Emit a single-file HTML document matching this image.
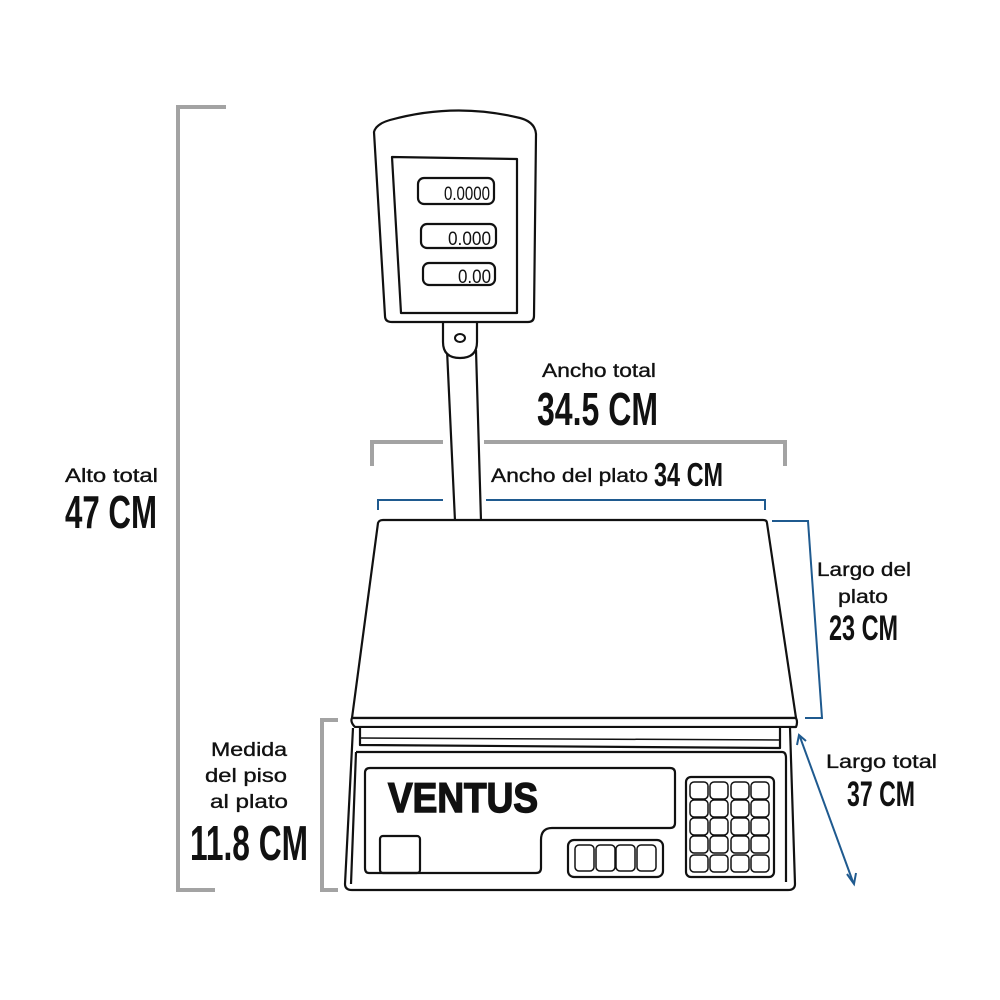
<!DOCTYPE html>
<html><head><meta charset="utf-8"><style>
html,body{margin:0;padding:0;background:#fff;}
svg{display:block}
.l{font-family:"Liberation Sans",sans-serif;font-size:19px;fill:#111;stroke:#111;stroke-width:0.35}
.b{font-family:"Liberation Sans",sans-serif;font-weight:bold;fill:#111}
</style></head><body>
<svg width="1000" height="1000" viewBox="0 0 1000 1000" xmlns="http://www.w3.org/2000/svg">
<g fill="none" stroke-linecap="butt">
<path d="M226 107 H178 V890 H215" stroke="#a3a3a3" stroke-width="4"/>
<path d="M338 720 H322 V890 H338" stroke="#a3a3a3" stroke-width="4"/>
<path d="M372 466 V442 H443 M484 442 H785 V466" stroke="#a3a3a3" stroke-width="4"/>
<path d="M378 510 V500 H443 M486 500 H765 V510" stroke="#1f5a8f" stroke-width="2"/>
<path d="M772 521 H808 L822 718 H805" stroke="#1f5a8f" stroke-width="2"/>
<path d="M800 737 L853 882" stroke="#1f5a8f" stroke-width="2"/>
<path d="M797 745 L799 735 L806 741" stroke="#1f5a8f" stroke-width="2"/>
<path d="M847 874 L854 884 L856 873" stroke="#1f5a8f" stroke-width="2"/>
</g>
<g fill="none" stroke="#111" stroke-width="2.2" stroke-linejoin="round">
<path d="M447 350 L455 521 M476 350 L481 521" fill="#fff"/>
<path d="M443 322 V342 Q443 358 460 358 Q477 358 477 342 V322" fill="#fff"/>
<ellipse cx="460" cy="338" rx="5" ry="4" stroke-width="2"/>
<path d="M374 132 Q376 124 390 120 Q455 102 520 118 Q535 122 536 134 L534 316 Q534 322 528 322 L392 322 Q385 322 385 316 Z" fill="#fff"/>
<path d="M392 157 L517 159 L517 313 L401 313 Z"/>
<rect x="418" y="178" width="76" height="26" rx="6"/>
<rect x="421" y="224" width="75" height="24" rx="6"/>
<rect x="423" y="263" width="72" height="22" rx="6"/>
<path d="M378 523 Q379 520 383 520 L763 520 Q767 520 767 523 L796 718 L352 718 Z" fill="#fff"/>
<path d="M352 718 L796 718 Q798 722 796 727 L355 727 Q350 722 352 718 Z" fill="#fff"/>
<path d="M353 728 L345 884 Q345 890 352 890 L788 890 Q795 890 795 884 L790 728" fill="#fff"/>
<path d="M360 728 L360 745 L780 748 L780 728"/>
<path d="M360 738 L780 740" stroke-width="1.5"/>
<path d="M356 752 L782 752 Q786 752 786 758 L786 882 M356 752 L351 884"/>
<path d="M370 768 L670 768 Q675 768 675 773 L675 823 Q675 828 670 828 L552 828 Q541 828 541 840 L541 868 Q541 873 536 873 L369 873 Q365 873 365 868 L365 773 Q365 768 370 768 Z"/>
<rect x="380" y="836" width="40" height="37" rx="3"/>
<rect x="568" y="840" width="95" height="37" rx="6"/>
<g stroke-width="1.5">
<rect x="575" y="845" width="19" height="26" rx="4"/><rect x="596" y="845" width="19" height="26" rx="4"/>
<rect x="616" y="845" width="19" height="26" rx="4"/><rect x="637" y="845" width="19" height="26" rx="4"/>
</g>
<rect x="686" y="777" width="88" height="100" rx="5"/>
<g stroke-width="1.5">
<rect x="690" y="782" width="18" height="17" rx="4"/><rect x="710" y="782" width="18" height="17" rx="4"/><rect x="731" y="782" width="18" height="17" rx="4"/><rect x="751" y="782" width="18" height="17" rx="4"/>
<rect x="690" y="800" width="18" height="17" rx="4"/><rect x="710" y="800" width="18" height="17" rx="4"/><rect x="731" y="800" width="18" height="17" rx="4"/><rect x="751" y="800" width="18" height="17" rx="4"/>
<rect x="690" y="818" width="18" height="17" rx="4"/><rect x="710" y="818" width="18" height="17" rx="4"/><rect x="731" y="818" width="18" height="17" rx="4"/><rect x="751" y="818" width="18" height="17" rx="4"/>
<rect x="690" y="836" width="18" height="17" rx="4"/><rect x="710" y="836" width="18" height="17" rx="4"/><rect x="731" y="836" width="18" height="17" rx="4"/><rect x="751" y="836" width="18" height="17" rx="4"/>
<rect x="690" y="855" width="18" height="17" rx="4"/><rect x="710" y="855" width="18" height="17" rx="4"/><rect x="731" y="855" width="18" height="17" rx="4"/><rect x="751" y="855" width="18" height="17" rx="4"/>
</g>
</g>
<g font-family="Liberation Sans,sans-serif" font-size="19" fill="#111">
<text x="444" y="200" textLength="46" lengthAdjust="spacingAndGlyphs">0.0000</text>
<text x="448" y="245" textLength="43" lengthAdjust="spacingAndGlyphs">0.000</text>
<text x="458" y="283" textLength="33" lengthAdjust="spacingAndGlyphs">0.00</text>
</g>
<text x="388" y="812" font-family="Liberation Sans,sans-serif" font-weight="bold" font-size="42" fill="#111" stroke="#111" stroke-width="1.5" textLength="150" lengthAdjust="spacingAndGlyphs">VENTUS</text>
<text class="l" x="65" y="482" textLength="93" lengthAdjust="spacingAndGlyphs">Alto total</text>
<text class="b" x="65" y="528" font-size="46" textLength="92" lengthAdjust="spacingAndGlyphs">47 CM</text>
<text class="l" x="542" y="377" textLength="114" lengthAdjust="spacingAndGlyphs">Ancho total</text>
<text class="b" x="537" y="425" font-size="46" textLength="121" lengthAdjust="spacingAndGlyphs">34.5 CM</text>
<text class="l" x="491" y="482" textLength="157" lengthAdjust="spacingAndGlyphs">Ancho del plato</text>
<text class="b" x="654" y="486" font-size="33" textLength="69" lengthAdjust="spacingAndGlyphs">34 CM</text>
<text class="l" x="817" y="576" textLength="94" lengthAdjust="spacingAndGlyphs">Largo del</text>
<text class="l" x="838" y="603" textLength="50" lengthAdjust="spacingAndGlyphs">plato</text>
<text class="b" x="829" y="640" font-size="35" textLength="69" lengthAdjust="spacingAndGlyphs">23 CM</text>
<text class="l" x="826" y="768" textLength="111" lengthAdjust="spacingAndGlyphs">Largo total</text>
<text class="b" x="847" y="806" font-size="35" textLength="68" lengthAdjust="spacingAndGlyphs">37 CM</text>
<text class="l" x="211" y="756" textLength="76" lengthAdjust="spacingAndGlyphs">Medida</text>
<text class="l" x="205" y="782" textLength="82" lengthAdjust="spacingAndGlyphs">del piso</text>
<text class="l" x="210" y="808" textLength="78" lengthAdjust="spacingAndGlyphs">al plato</text>
<text class="b" x="190" y="860" font-size="49" textLength="118" lengthAdjust="spacingAndGlyphs">11.8 CM</text>
</svg>
</body></html>
